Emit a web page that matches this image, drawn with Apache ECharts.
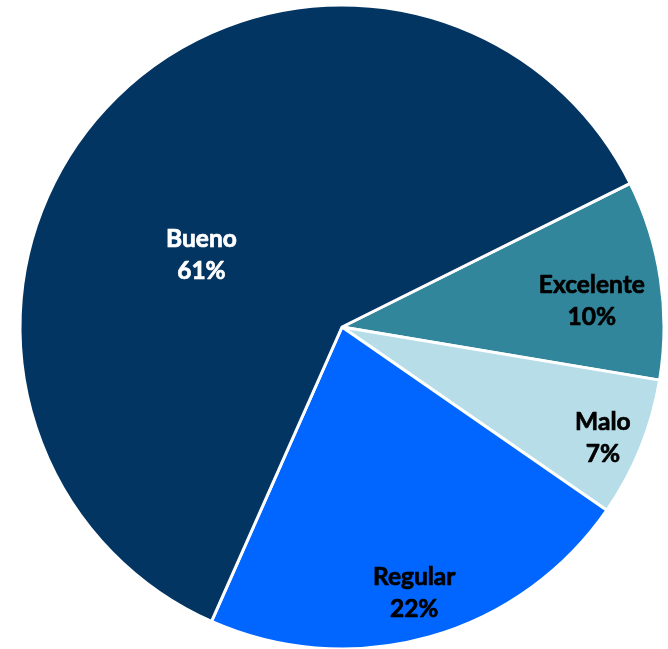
<!DOCTYPE html>
<html>
<head>
<meta charset="utf-8">
<script src="https://cdn.jsdelivr.net/npm/echarts@6/dist/echarts.min.js"></script>
<style>
  html, body { margin: 0; padding: 0; background: #fff; }
  #chart { width: 668px; height: 649px; }
</style>
</head>
<body>
<div id="chart"></div>
<script>
  // datos del gráfico (orden horario desde arriba a la derecha)
  var categories = ['Excelente', 'Malo', 'Regular', 'Bueno']
  var values = [10, 7, 22, 61]
  var colors = ['#31869B', '#B7DEE8', '#0066FF', '#033563']
  var labelColors = ['#000', '#000', '#000', '#fff']

  // posición de etiquetas: fracción del radio y ángulo (grados)
  var labelFrac = [0.78, 0.88, 0.855, 0.49]
  var labelAngle = [6, -23, -74.8, 153]

  var cx = 342, cy = 327, R = 322

  var chart = echarts.init(document.getElementById('chart'))
  chart.setOption({
    animation: false,
    series: [{
      type: 'pie',
      center: [cx, cy],
      radius: [0, R],
      startAngle: 26.5,
      clockwise: true,
      data: categories.map(function (name, i) {
        return {
          name: name,
          value: values[i],
          itemStyle: { color: colors[i] },
          label: { color: labelColors[i], textBorderColor: labelColors[i] }
        }
      }),
      itemStyle: { borderColor: '#fff', borderWidth: 3 },
      label: {
        show: true,
        position: 'inside',
        formatter: '{b}\n{c}%',
        fontFamily: 'Lato',
        fontWeight: 'bold',
        fontSize: 24.5,
        lineHeight: 32,
        textBorderWidth: 0.7,
        align: 'center',
        verticalAlign: 'middle'
      },
      labelLine: { show: false },
      labelLayout: function (p) {
        var i = p.dataIndex
        var a = labelAngle[i] * Math.PI / 180
        return {
          x: cx + labelFrac[i] * R * Math.cos(a),
          y: cy - labelFrac[i] * R * Math.sin(a),
          align: 'center',
          verticalAlign: 'middle'
        }
      },
      emphasis: { disabled: true }
    }]
  })
</script>
</body>
</html>
